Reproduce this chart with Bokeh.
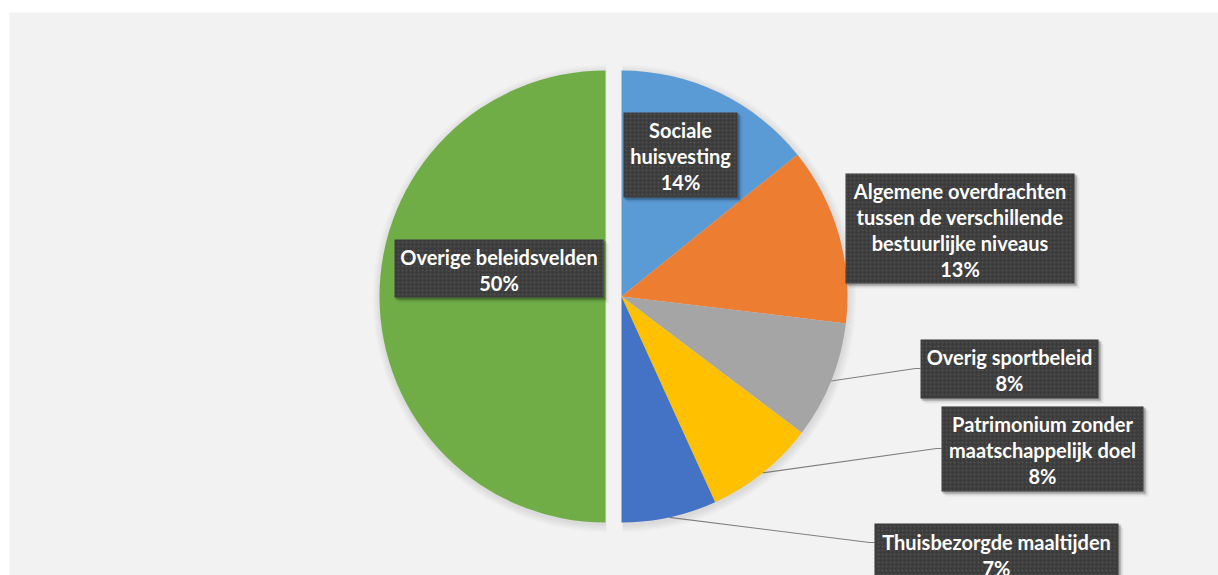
import math
from bokeh.plotting import figure
from bokeh.models import Range1d
from bokeh.core.properties import value
from bokeh.embed import file_html
from bokeh.resources import INLINE

# ---------------- data ----------------
categories = [
    "Sociale huisvesting",
    "Algemene overdrachten tussen de verschillende bestuurlijke niveaus",
    "Overig sportbeleid",
    "Patrimonium zonder maatschappelijk doel",
    "Thuisbezorgde maaltijden",
    "Overige beleidsvelden",
]
label_lines = [
    ["Sociale", "huisvesting"],
    ["Algemene overdrachten", "tussen de verschillende", "bestuurlijke niveaus"],
    ["Overig sportbeleid"],
    ["Patrimonium zonder", "maatschappelijk doel"],
    ["Thuisbezorgde maaltijden"],
    ["Overige beleidsvelden"],
]
shares = [14.2, 12.7, 8.4, 7.9, 6.8, 50.0]
colors = ["#5B9BD5", "#ED7D31", "#A5A5A5", "#FFC000", "#4472C4", "#70AD47"]
exploded = [0, 0, 0, 0, 0, 16]

# ---------------- layout (screen px, y downward) ----------------
W, H = 1218, 575
FX0, FX1, FY0, FY1 = 9, 1218, 12, 575
CX, CY, R = 621, 296, 226
boxes = [
    (623, 112, 737, 197),
    (845, 173, 1074, 283),
    (920, 339, 1098, 398),
    (941, 406, 1143, 491),
    (874, 523, 1118, 584),
    (394, 239, 603, 297),
]
leader_y = {2: 368, 3: 448, 4: 542}
LINE_H = 26

def Y(sy):
    return -sy

p = figure(width=W, height=H, output_backend="svg", toolbar_location=None,
           x_range=Range1d(FX0, FX1), y_range=Range1d(Y(FY1), Y(FY0)),
           min_border_left=FX0, min_border_right=W - FX1,
           min_border_top=FY0, min_border_bottom=H - FY1)
p.background_fill_color = "#f2f2f2"
p.border_fill_color = "white"
p.outline_line_color = None
p.axis.visible = False
p.grid.visible = False

total = sum(shares)
cum = 0.0
geo = []
for v, e in zip(shares, exploded):
    c0 = cum / total * 2 * math.pi
    cum += v
    c1 = cum / total * 2 * math.pi
    cm = (c0 + c1) / 2
    cx = CX + e * math.sin(cm)
    cy = CY - e * math.cos(cm)
    geo.append((c0, c1, cm, cx, cy))

# soft shadow
for k in range(1, 9):
    for (c0, c1, cm, cx, cy) in geo:
        p.wedge(x=cx + 1, y=Y(cy + 2), radius=R + k, start_angle=math.pi / 2 - c1,
                end_angle=math.pi / 2 - c0, direction="anticlock",
                fill_color="black", fill_alpha=0.012, line_color=None)

# slices
for (c0, c1, cm, cx, cy), col in zip(geo, colors):
    p.wedge(x=cx, y=Y(cy), radius=R, start_angle=math.pi / 2 - c1,
            end_angle=math.pi / 2 - c0, direction="anticlock",
            fill_color=col, line_color=None)

# leader lines
for i, ly in leader_y.items():
    c0, c1, cm, cx, cy = geo[i]
    ax = cx + R * math.sin(cm)
    ay = cy - R * math.cos(cm)
    bl = boxes[i][0]
    p.line(x=[ax, bl - 5, bl], y=[Y(ay), Y(ly), Y(ly)], line_color="#7f7f7f", line_width=1.2)

# label boxes
for i, (l, t, r, b) in enumerate(boxes):
    for d, a in ((5, 0.06), (3, 0.12), (2, 0.18)):
        p.quad(left=l + d - 1, right=r + d, top=Y(t + d - 1), bottom=Y(b + d),
               fill_color="black", fill_alpha=a, line_color=None)
    p.quad(left=l, right=r, top=Y(t), bottom=Y(b), fill_color="#3c3c3c",
           line_color=None, hatch_pattern="dot", hatch_color="#5a5a5a",
           hatch_scale=4, hatch_alpha=0.7, hatch_weight=1)
    lines = label_lines[i] + [f"{round(shares[i])}%"]
    n = len(lines)
    yc = (t + b) / 2 + 1
    xs = [(l + r) / 2] * n
    ys = [Y(yc + (k - (n - 1) / 2) * LINE_H) for k in range(n)]
    p.text(x=xs, y=ys, text=lines, text_font=value("Lato"), text_font_style="bold",
           text_font_size="20px", text_color="white", text_align="center",
           text_baseline="middle")

open("out.html", "w").write(file_html(p, INLINE))
